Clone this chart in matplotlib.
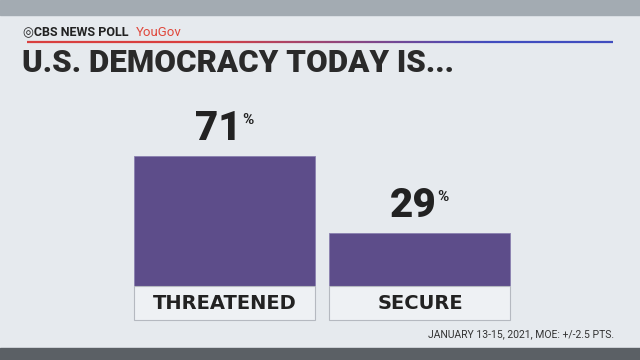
import numpy as np
import matplotlib.pyplot as plt
from matplotlib.patches import Rectangle
from matplotlib.collections import LineCollection

categories = ["THREATENED", "SECURE"]
values = [71, 29]
title = "U.S. DEMOCRACY TODAY IS..."
footnote = "JANUARY 13-15, 2021, MOE: +/-2.5 PTS."

bar_color = "#5d4d8a"
card_color = "#e6eaee"
ink = "#222222"
font = ["Roboto", "DejaVu Sans"]

fig = plt.figure(figsize=(6.4, 3.6), dpi=100)
fig.patch.set_facecolor(card_color)

# dark strips at top and bottom of the screen grab
fig.add_artist(Rectangle((0, 1 - 15/360), 1, 15/360, transform=fig.transFigure,
                         color="#a3abb2", zorder=0))
fig.add_artist(Rectangle((0, 0), 1, 12/360, transform=fig.transFigure,
                         color="#5b6065", zorder=0))

# header
fig.text(23/640, 1 - 32/360, "\u25CECBS NEWS POLL", fontsize=9, fontweight="bold",
         family=font, color=ink, va="center", ha="left")
fig.text(136/640, 1 - 32/360, "YouGov", fontsize=9.5, family=font,
         color="#e0483c", va="center", ha="left")

# red -> blue rule under the header
xs = np.linspace(27/640, 613/640, 60)
segs = [[(xs[i], 1 - 42/360), (xs[i+1], 1 - 42/360)] for i in range(len(xs) - 1)]
red = np.array([0.85, 0.25, 0.25])
blue = np.array([0.25, 0.30, 0.75])
t = np.clip((np.linspace(0, 1, len(segs)) - 0.3) / 0.5, 0, 1)
cols = [tuple(red * (1 - k) + blue * k) for k in t]
fig.add_artist(LineCollection(segs, colors=cols, linewidths=1.6, transform=fig.transFigure))

fig.text(22/640, 1 - 63/360, title, fontsize=22.5, fontweight="black", family=font,
         color="#2a2a2a", va="center", ha="left")

# bars: centre spacing 195 px, 1.83 px per percent
ax = fig.add_axes([120/640, 37.4/360, 410/640, 222.6/360])
ax.set_xlim(-0.538, 1.564)
ax.set_ylim(-20, 101.6)
ax.axis("off")

x = np.arange(len(categories))
w = 0.928
ax.bar(x, values, width=w, color=bar_color, edgecolor="#8a80b0", linewidth=0.6)
ax.bar(x, [-18.6] * len(x), width=w, color="#eef1f4", edgecolor="#b5b9c0", linewidth=0.8)

for xi, v, c in zip(x, values, categories):
    ax.annotate(str(v), (xi, v), xytext=(12, 6), textcoords="offset points",
                ha="right", va="bottom", fontsize=29, fontweight="black",
                family=font, color=ink)
    ax.annotate("%", (xi, v), xytext=(12.5, 31), textcoords="offset points",
                ha="left", va="top", fontsize=11, fontweight="bold",
                family=font, color=ink)
    ax.text(xi, -9.3, c, ha="center", va="center", fontsize=14, fontweight="bold",
            family=["DejaVu Sans"], color=ink)

fig.text(614/640, 1 - 334/360, footnote, fontsize=7.5, family=font,
         color="#333333", ha="right", va="center")

fig.savefig("out.png", dpi=100, facecolor=fig.get_facecolor())
